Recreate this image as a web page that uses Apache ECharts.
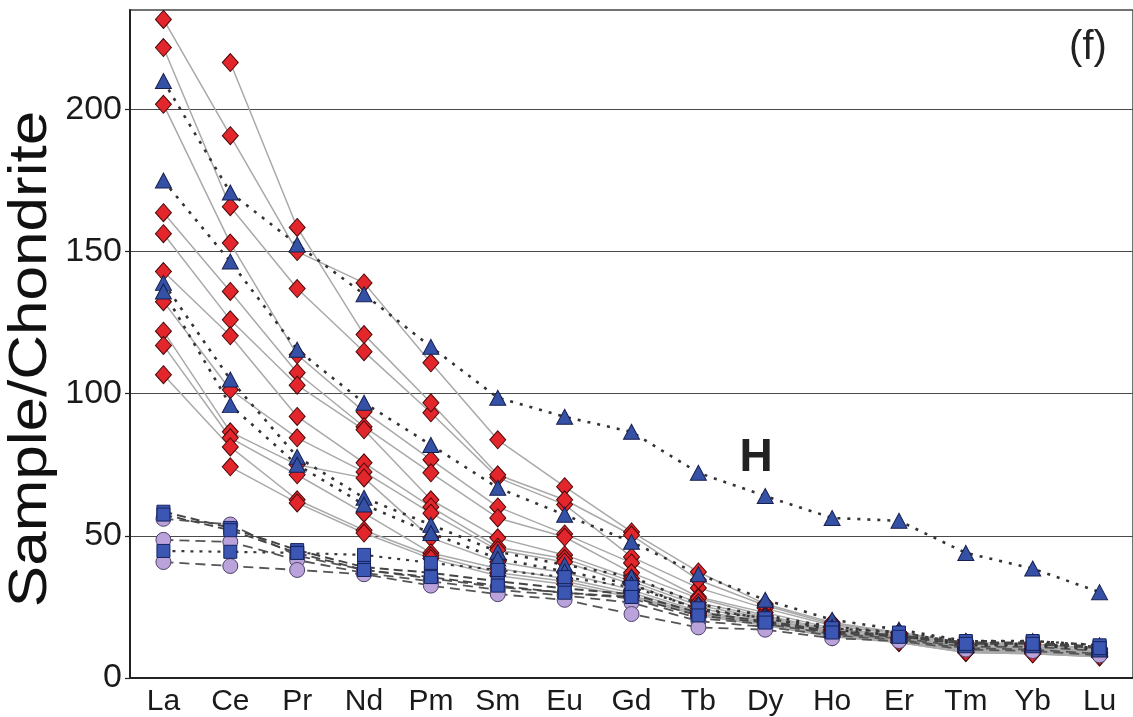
<!DOCTYPE html>
<html>
<head>
<meta charset="utf-8">
<script src="https://cdn.jsdelivr.net/npm/echarts@6/dist/echarts.min.js"></script>
<style>
  html, body { margin: 0; padding: 0; background: #fff; }
  #chart { width: 1133px; height: 717px; }
</style>
</head>
<body>
<div id="chart"></div>
<script>
// Rare-earth element order along the x axis
const elements = ['La', 'Ce', 'Pr', 'Nd', 'Pm', 'Sm', 'Eu', 'Gd', 'Tb', 'Dy', 'Ho', 'Er', 'Tm', 'Yb', 'Lu'];
const yTicks = [0, 50, 100, 150, 200];

// Diamond samples (solid grey lines); null = not analysed
const dia1 = [231.7, 190.8, 150.0, 139.0, 110.9, 83.8, 67.3, 51.4, 37.3, 26.0, 19.5, 16.0, 12.0, 11.5, 10.0];
const dia2 = [221.8, 165.8, 137.0, 114.8, 93.3, 70.5, 61.0, 42.6, 31.7, 24.5, 18.5, 15.5, 11.5, 11.0, 9.5];
const dia3 = [201.8, 153.0, 113.7, 93.7, 76.8, 60.2, 50.7, 40.5, 28.5, 23.0, 17.5, 15.0, 11.0, 10.5, 9.0];
const dia4 = [null, 216.5, 158.5, 120.8, 96.8, 71.5, 62.7, 50.3, 34.5, 25.5, 19.0, 16.0, 12.5, 12.0, 10.5];
const dia5 = [163.7, 136.0, 107.4, 88.4, 72.2, 56.3, 49.6, 37.0, 28.0, 22.0, 17.0, 14.5, 11.0, 10.0, 9.0];
const dia6 = [156.3, 126.0, 103.0, 87.3, 62.7, 49.3, 43.3, 35.0, 26.5, 21.5, 16.5, 14.0, 10.5, 10.0, 8.5];
const dia7 = [143.0, 120.4, 92.0, 75.7, 60.2, 46.0, 42.0, 34.0, 25.5, 21.0, 16.0, 14.0, 10.0, 9.5, 8.5];
const dia8 = [132.4, 101.4, 84.5, 72.5, 58.0, 45.0, 40.8, 33.0, 24.5, 20.5, 16.0, 13.5, 10.0, 9.5, 8.0];
const dia9 = [122.0, 86.6, 75.0, 70.4, 49.3, 40.8, 37.0, 31.0, 23.5, 20.0, 15.5, 13.0, 9.5, 9.0, 8.0];
const dia10 = [117.0, 84.5, 71.5, 58.0, 44.0, 38.5, 35.0, 30.0, 23.0, 19.5, 15.5, 13.0, 9.5, 9.0, 7.5];
const dia11 = [106.7, 81.3, 62.7, 52.0, 43.0, 37.0, 34.0, 29.0, 22.5, 19.0, 15.0, 12.5, 9.0, 8.5, 7.5];
const dia12 = [null, 74.3, 61.6, 51.0, 42.0, 36.0, 33.0, 28.5, 22.0, 18.5, 14.5, 12.5, 9.0, 8.5, 7.5];

// Triangle samples (dotted lines); triH is the labelled "H" pattern
const triH = [210.0, 170.8, 152.5, 135.0, 116.5, 98.6, 91.9, 86.6, 72.2, 64.0, 56.3, 55.3, 44.0, 38.5, 30.2];
const tri2 = [175.0, 146.5, 115.5, 96.8, 82.0, 66.9, 57.4, 47.9, 36.5, 27.5, 20.5, 17.0, 13.0, 13.0, 11.5];
const tri3 = [139.0, 105.0, 77.8, 63.4, 53.9, 44.4, 39.8, 35.6, 26.0, 22.0, 18.0, 16.0, 12.0, 12.0, 10.5];
const tri4 = [136.0, 96.0, 75.0, 61.0, 51.0, 42.0, 37.5, 33.0, 24.0, 21.0, 17.0, 15.0, 11.5, 11.5, 10.0];

// Square samples
const sq1 = [58.5, 52.8, 45.0, 39.0, 37.0, 34.0, 31.5, 29.5, 23.0, 20.0, 16.5, 15.0, 12.5, 12.5, 11.0];
const sq2 = [44.7, 44.4, 44.0, 43.3, 40.5, 38.0, 35.5, 32.0, 24.5, 21.0, 17.5, 16.0, 13.0, 13.0, 11.5];
const sq3 = [57.5, 52.0, 44.0, 38.0, 35.5, 32.5, 30.0, 28.5, 22.0, 19.5, 16.0, 14.5, 12.0, 12.0, 10.5];

// Circle samples (dashed lines)
const cir1 = [56.0, 54.0, 43.0, 38.0, 35.0, 32.0, 30.0, 28.0, 21.0, 19.0, 15.5, 14.0, 11.0, 11.0, 9.5];
const cir2 = [48.6, 47.9, 41.5, 37.0, 34.0, 31.0, 29.0, 26.5, 20.0, 18.0, 15.0, 13.5, 10.5, 10.0, 8.5];
const cir3 = [40.8, 39.4, 38.0, 36.5, 32.5, 29.5, 27.5, 22.5, 17.8, 17.0, 14.0, 13.0, 10.0, 9.5, 8.0];

const diamonds = [dia1, dia2, dia3, dia4, dia5, dia6, dia7, dia8, dia9, dia10, dia11, dia12];
const triangles = [triH, tri2, tri3, tri4];
const squares = [sq1, sq2, sq3];
const circles = [cir1, cir2, cir3];

// Group styles: marker look and connecting line look
const groups = [
  { list: diamonds, symbol: 'diamond', size: [16, 18], fill: '#e3262c', edge: '#4a0808',
    line: { color: '#a9a9a9', width: 1.5, type: 'solid' }, z: 3 },
  { list: circles, symbol: 'circle', size: 15, fill: '#b9a3da', edge: '#4f4268',
    line: { color: '#555', width: 1.8, type: [10, 6] }, z: 4 },
  { list: triangles, symbol: 'triangle', size: [16, 15], fill: '#3551a6', edge: '#16204f',
    line: { color: '#333', width: 2.6, type: [3, 7] }, z: 5 },
  { list: squares, symbol: 'rect', size: 13, fill: '#3b57b3', edge: '#18245e',
    line: { color: '#3a3a3a', width: 2.2, type: [3, 6] }, z: 6 }
];
// the upper square samples are drawn with a dash
const lineOverride = new Map([[sq1, { color: '#444', width: 2, type: [9, 5] }], [sq3, { color: '#444', width: 1.8, type: [9, 5] }]]);

const series = [];
// connecting lines first, so every marker sits above every line
groups.forEach(g => {
  g.list.forEach(vals => {
    series.push({
      type: 'line',
      data: vals,
      showSymbol: false,
      connectNulls: false,
      silent: true,
      lineStyle: Object.assign({ cap: 'butt' }, lineOverride.get(vals) || g.line),
      z: 2
    });
  });
});
groups.forEach(g => {
  g.list.forEach(vals => {
    series.push({
      type: 'scatter',
      data: vals.map((v, i) => [i, v]).filter(p => p[1] !== null),
      symbol: g.symbol,
      symbolSize: g.size,
      itemStyle: { color: g.fill, borderColor: g.edge, borderWidth: 1, opacity: 1 },
      silent: true,
      z: g.z
    });
  });
});

const chart = echarts.init(document.getElementById('chart'), null, { renderer: 'canvas' });
chart.setOption({
  animation: false,
  backgroundColor: '#fff',
  grid: { left: 130, right: -6, top: 10, bottom: 39, show: true, borderColor: '#444', borderWidth: 1.5 },
  xAxis: {
    type: 'category',
    data: elements,
    axisLine: { lineStyle: { color: '#222', width: 2 } },
    axisTick: { inside: true, length: 8, lineStyle: { color: '#222', width: 1.5 } },
    axisLabel: { color: '#1a1a1a', fontSize: 30, fontFamily: 'Liberation Sans, Arial, sans-serif', margin: 9 },
    splitLine: { show: false }
  },
  yAxis: {
    type: 'value',
    min: 0,
    max: 235,
    interval: 50,
    axisLine: { show: true, lineStyle: { color: '#222', width: 2 } },
    axisTick: { show: true, length: 5, customValues: yTicks, lineStyle: { color: '#222', width: 1.2 } },
    axisLabel: {
      color: '#1a1a1a', fontSize: 34, fontFamily: 'Liberation Sans, Arial, sans-serif', margin: 8,
      customValues: yTicks
    },
    splitLine: { show: true, lineStyle: { color: '#4a4a4a', width: 1.2 } }
  },
  graphic: [
    {
      type: 'text', x: 31, y: 359, rotation: Math.PI / 2, scaleX: 1.17,
      style: { text: 'Sample/Chondrite', fontSize: 53, fontFamily: 'Liberation Sans, Arial, sans-serif',
        fill: '#111', textAlign: 'center', textVerticalAlign: 'middle' }
    },
    {
      type: 'text', x: 1088, y: 48,
      style: { text: '(f)', fontSize: 40, fontFamily: 'Liberation Sans, Arial, sans-serif',
        fill: '#222', textAlign: 'center', textVerticalAlign: 'middle' }
    },
    {
      type: 'text', x: 756, y: 458,
      style: { text: 'H', fontSize: 46, fontWeight: 'bold', fontFamily: 'Liberation Sans, Arial, sans-serif',
        fill: '#222', textAlign: 'center', textVerticalAlign: 'middle' }
    }
  ],
  series: series
});
</script>
</body>
</html>
